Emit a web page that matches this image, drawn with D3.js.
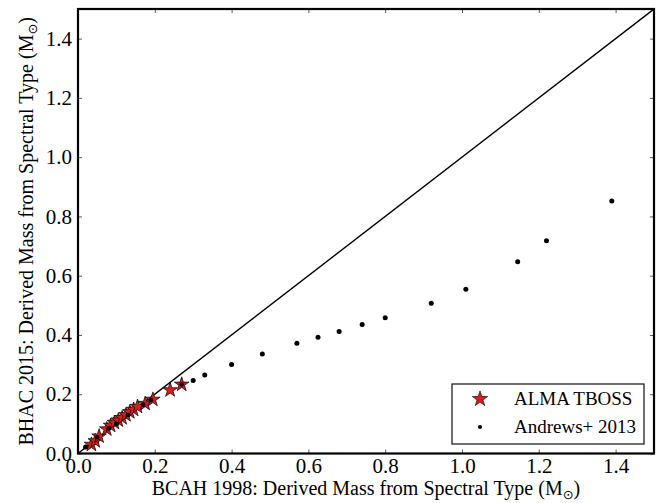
<!DOCTYPE html>
<html>
<head>
<meta charset="utf-8">
<script src="https://cdn.jsdelivr.net/npm/d3@7"></script>
<style>
  html, body { margin: 0; padding: 0; background: #fff; }
  svg { display: block; }
</style>
</head>
<body>
<svg id="chart" width="666" height="503"></svg>
<script>
// BCAH 1998 vs BHAC 2015 masses (solar masses) derived from spectral type
const tbossBCAH = [0.035, 0.045, 0.055, 0.075, 0.085, 0.095, 0.105, 0.115, 0.125, 0.135, 0.145, 0.155, 0.175, 0.195, 0.24, 0.27];
const tbossBHAC = [0.030, 0.042, 0.058, 0.082, 0.094, 0.104, 0.112, 0.120, 0.130, 0.140, 0.148, 0.158, 0.168, 0.182, 0.214, 0.233];

const andrewsBCAH = [0.02, 0.05, 0.08, 0.10, 0.13, 0.17, 0.19, 0.27, 0.30, 0.33, 0.40, 0.48, 0.57, 0.625, 0.68, 0.74, 0.80, 0.92, 1.01, 1.145, 1.22, 1.39];
const andrewsBHAC = [0.022, 0.055, 0.085, 0.10, 0.13, 0.165, 0.18, 0.233, 0.246, 0.265, 0.300, 0.336, 0.372, 0.392, 0.412, 0.435, 0.458, 0.507, 0.554, 0.647, 0.718, 0.852];

const tickValues = [0.0, 0.2, 0.4, 0.6, 0.8, 1.0, 1.2, 1.4];
const legendLabels = ["ALMA TBOSS", "Andrews+ 2013"];
const xTitle = "BCAH 1998: Derived Mass from Spectral Type";
const yTitle = "BHAC 2015: Derived Mass from Spectral Type";

const svg = d3.select("#chart");
const W = 666, H = 503;
const margin = { left: 78, right: 12, top: 9, bottom: 49.5 };
const iw = W - margin.left - margin.right;
const ih = H - margin.top - margin.bottom;

const x = d3.scaleLinear().domain([0, 1.5]).range([margin.left, margin.left + iw]);
const y = d3.scaleLinear().domain([0, 1.5]).range([margin.top + ih, margin.top]);

const fmt = d3.format(".1f");
const serif = "Liberation Serif, Times New Roman, serif";
const tickFont = 21, titleFont = 20, legendFont = 19;
const red = "#d41f1f";

// inward ticks on all four sides
const tickLen = 4;
const tickStyle = g => {
  g.attr("font-family", serif);
  g.select(".domain").remove();
  g.selectAll(".tick line").attr("stroke", "#333").attr("stroke-width", 0.8);
};

svg.append("g")
  .attr("transform", `translate(0,${margin.top + ih})`)
  .call(d3.axisBottom(x).tickValues(tickValues).tickSizeInner(-tickLen).tickSizeOuter(0).tickPadding(5).tickFormat(fmt))
  .call(tickStyle)
  .call(g => g.selectAll("text").attr("font-size", tickFont).attr("font-family", serif).attr("fill", "#000").attr("dy", "0.71em"));

svg.append("g")
  .attr("transform", `translate(${margin.left},0)`)
  .call(d3.axisLeft(y).tickValues(tickValues).tickSizeInner(-tickLen).tickSizeOuter(0).tickPadding(6).tickFormat(fmt))
  .call(tickStyle)
  .call(g => g.selectAll("text").attr("font-size", tickFont).attr("font-family", serif).attr("fill", "#000"));

svg.append("g")
  .attr("transform", `translate(0,${margin.top})`)
  .call(d3.axisTop(x).tickValues(tickValues).tickSizeInner(-tickLen).tickSizeOuter(0).tickFormat(""))
  .call(tickStyle);

svg.append("g")
  .attr("transform", `translate(${margin.left + iw},0)`)
  .call(d3.axisRight(y).tickValues(tickValues).tickSizeInner(-tickLen).tickSizeOuter(0).tickFormat(""))
  .call(tickStyle);

// clip for the data region
svg.append("clipPath").attr("id", "plotClip")
  .append("rect").attr("x", margin.left).attr("y", margin.top).attr("width", iw).attr("height", ih);

const plot = svg.append("g").attr("clip-path", "url(#plotClip)");

// one-to-one line
plot.append("line")
  .attr("x1", x(0)).attr("y1", y(0))
  .attr("x2", x(1.5)).attr("y2", y(1.5))
  .attr("stroke", "#000").attr("stroke-width", 1.4);

const andrews = andrewsBCAH.map((v, i) => [v, andrewsBHAC[i]]);

// Andrews+ 2013 sample
plot.selectAll("circle.andrews")
  .data(andrews)
  .join("circle")
  .attr("class", "andrews")
  .attr("cx", d => x(d[0])).attr("cy", d => y(d[1]))
  .attr("r", 2.5).attr("fill", "#000");

// ALMA TBOSS sample as stars
const star = d3.symbol().type(d3.symbolStar).size(66);
plot.selectAll("path.tboss")
  .data(tbossBCAH.map((v, i) => [v, tbossBHAC[i]]))
  .join("path")
  .attr("class", "tboss")
  .attr("transform", d => `translate(${x(d[0])},${y(d[1])})`)
  .attr("d", star)
  .attr("fill", red).attr("stroke", "#000").attr("stroke-width", 0.7);

// low-mass dots stay visible over the stars
plot.selectAll("circle.andrewsTop")
  .data(andrews.filter(d => d[0] < 0.28))
  .join("circle")
  .attr("class", "andrewsTop")
  .attr("cx", d => x(d[0])).attr("cy", d => y(d[1]))
  .attr("r", 2.3).attr("fill", "#000");

// frame
svg.append("rect")
  .attr("x", margin.left).attr("y", margin.top)
  .attr("width", iw).attr("height", ih)
  .attr("fill", "none").attr("stroke", "#000").attr("stroke-width", 2.2);

// legend
const lg = svg.append("g").attr("font-family", serif);
lg.append("rect")
  .attr("x", 452).attr("y", 384).attr("width", 192).attr("height", 60)
  .attr("fill", "#fff").attr("stroke", "#222").attr("stroke-width", 1.3);
lg.append("path")
  .attr("transform", "translate(480,399)")
  .attr("d", d3.symbol().type(d3.symbolStar).size(74))
  .attr("fill", red).attr("stroke", "#000").attr("stroke-width", 0.6);
lg.append("circle").attr("cx", 480).attr("cy", 427).attr("r", 2.1).attr("fill", "#000");
lg.append("text").attr("x", 514).attr("y", 405).attr("font-size", legendFont).attr("font-family", serif).text(legendLabels[0]);
lg.append("text").attr("x", 514).attr("y", 433).attr("font-size", legendFont).attr("font-family", serif).text(legendLabels[1]);

// axis titles with solar-mass subscript
function massLabel(sel, main) {
  sel.append("tspan").text(main + " (M");
  sel.append("tspan").attr("font-family", "DejaVu Sans").attr("font-size", titleFont * 0.65)
    .attr("dy", 4).text("\u2299");
  sel.append("tspan").attr("dy", -4).text(")");
}

svg.append("text")
  .attr("x", margin.left + iw / 2).attr("y", 495)
  .attr("text-anchor", "middle").attr("font-size", titleFont).attr("font-family", serif)
  .call(massLabel, xTitle);

svg.append("text")
  .attr("transform", `translate(33,${margin.top + ih / 2}) rotate(-90)`)
  .attr("text-anchor", "middle").attr("font-size", titleFont).attr("font-family", serif)
  .call(massLabel, yTitle);
</script>
</body>
</html>
